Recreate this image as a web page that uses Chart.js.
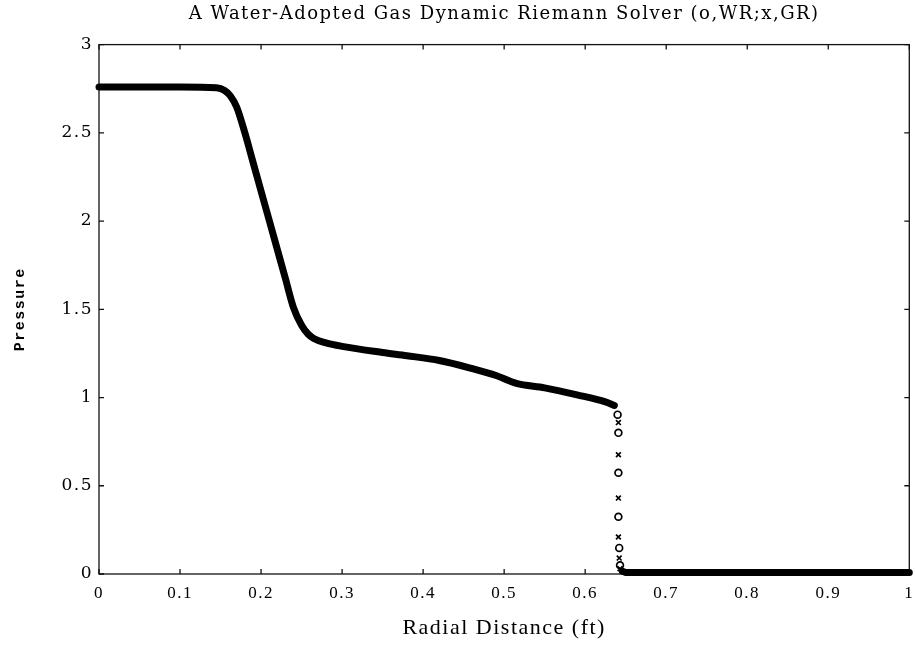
<!DOCTYPE html>
<html>
<head>
<meta charset="utf-8">
<title>Riemann Solver</title>
<script src="https://cdn.jsdelivr.net/npm/chart.js@4.4.1/dist/chart.umd.min.js"></script>
<style>
  html, body { margin: 0; padding: 0; background: #fff; }
</style>
</head>
<body>
<canvas id="riemannChart" width="915" height="656"></canvas>
<script>
// Ticks dos eixos
const xTicks = [0, 0.1, 0.2, 0.3, 0.4, 0.5, 0.6, 0.7, 0.8, 0.9, 1];
const yTicks = [0, 0.5, 1, 1.5, 2, 2.5, 3];

// Solução contínua antes do choque (marcadores o/x sobrepostos)
const radiusUp = [0, 0.05, 0.10, 0.145, 0.155, 0.162, 0.170, 0.180, 0.190, 0.200, 0.210,
  0.220, 0.230, 0.240, 0.250, 0.258, 0.265, 0.280, 0.300, 0.350, 0.380, 0.420, 0.460,
  0.490, 0.515, 0.550, 0.590, 0.625, 0.636];
const pressureUp = [2.76, 2.76, 2.76, 2.755, 2.74, 2.71, 2.645, 2.50, 2.335, 2.17, 2.005,
  1.84, 1.675, 1.51, 1.41, 1.36, 1.335, 1.31, 1.29, 1.255, 1.237, 1.21, 1.165,
  1.125, 1.08, 1.055, 1.015, 0.975, 0.955];

// Depois do choque
const radiusDown = [0.646, 0.650, 0.700, 0.800, 0.900, 1.0];
const pressureDown = [0.015, 0.008, 0.008, 0.008, 0.008, 0.008];

// Marcadores no salto: o = WR, x = GR
const wrShockX = [0.640, 0.641, 0.641, 0.641, 0.642, 0.643];
const wrShockP = [0.903, 0.800, 0.574, 0.324, 0.148, 0.050];
const grShockX = [0.641, 0.641, 0.641, 0.641, 0.642, 0.643];
const grShockP = [0.858, 0.676, 0.430, 0.210, 0.090, 0.030];

const pts = (xs, ys) => xs.map((x, i) => ({ x: x, y: ys[i] }));

// Espaçamento entre letras (texto de plotter antigo)
const spacingPlugin = {
  id: 'spacing',
  beforeUpdate(chart) { chart.ctx.letterSpacing = '1.5px'; },
  beforeDraw(chart) { chart.ctx.letterSpacing = '1.5px'; }
};

// Moldura e ticks para dentro
const framePlugin = {
  id: 'frame',
  beforeDatasetsDraw(chart) {
    const { ctx, chartArea: a, scales } = chart;
    const x = scales.x, y = scales.y;
    ctx.save();
    ctx.strokeStyle = '#111';
    ctx.lineWidth = 1.3;
    ctx.strokeRect(a.left, a.top, a.right - a.left, a.bottom - a.top);
    ctx.beginPath();
    xTicks.forEach(v => {
      const px = x.getPixelForValue(v);
      ctx.moveTo(px, a.bottom); ctx.lineTo(px, a.bottom - 5);
      ctx.moveTo(px, a.top); ctx.lineTo(px, a.top + 5);
    });
    yTicks.forEach(v => {
      const py = y.getPixelForValue(v);
      ctx.moveTo(a.left, py); ctx.lineTo(a.left + 5, py);
      ctx.moveTo(a.right, py); ctx.lineTo(a.right - 5, py);
    });
    ctx.stroke();
    ctx.restore();
  }
};

const ctx = document.getElementById('riemannChart').getContext('2d');
const chart = new Chart(ctx, {
  type: 'scatter',
  data: {
    datasets: [
      {
        label: 'WR/GR',
        data: pts(radiusUp, pressureUp),
        showLine: true,
        borderColor: '#000',
        borderWidth: 7,
        borderCapStyle: 'round',
        borderJoinStyle: 'round',
        cubicInterpolationMode: 'monotone',
        pointRadius: 0,
        clip: false
      },
      {
        label: 'WR/GR low',
        data: pts(radiusDown, pressureDown),
        showLine: true,
        borderColor: '#000',
        borderWidth: 7,
        borderCapStyle: 'round',
        pointRadius: 0,
        clip: false
      },
      {
        label: 'WR',
        data: pts(wrShockX, wrShockP),
        showLine: false,
        pointStyle: 'circle',
        pointRadius: 3.4,
        pointBorderWidth: 1.7,
        pointBorderColor: '#000',
        pointBackgroundColor: 'rgba(0,0,0,0)'
      },
      {
        label: 'GR',
        data: pts(grShockX, grShockP),
        showLine: false,
        pointStyle: 'crossRot',
        pointRadius: 3.4,
        pointBorderWidth: 1.7,
        pointBorderColor: '#000'
      }
    ]
  },
  options: {
    responsive: false,
    animation: false,
    layout: { padding: { left: 0, right: 2, top: 0, bottom: 0 } },
    plugins: {
      legend: { display: false },
      tooltip: { enabled: false },
      title: {
        display: true,
        fullSize: false,
        text: 'A Water-Adopted Gas Dynamic Riemann Solver (o,WR;x,GR)',
        color: '#000',
        font: { family: 'DejaVu Serif', size: 18, weight: 'normal', lineHeight: 1.2 },
        padding: { top: 4, bottom: 19 }
      }
    },
    scales: {
      x: {
        type: 'linear',
        min: 0,
        max: 1,
        afterBuildTicks: s => { s.ticks = xTicks.map(v => ({ value: v })); },
        afterFit: s => { s.height = 82; s.paddingRight = 0; s.paddingLeft = 0; },
        grid: { display: false, drawTicks: false },
        border: { display: false },
        ticks: {
          color: '#000',
          padding: 9,
          maxRotation: 0,
          font: { family: 'Liberation Serif', size: 17 },
          callback: v => String(v)
        },
        title: {
          display: true,
          text: 'Radial Distance (ft)',
          color: '#000',
          font: { family: 'Liberation Serif', size: 22, lineHeight: 1.2 },
          padding: { top: 0, bottom: 15 }
        }
      },
      y: {
        type: 'linear',
        min: 0,
        max: 3,
        afterBuildTicks: s => { s.ticks = yTicks.map(v => ({ value: v })); },
        afterFit: s => { s.width = 99; },
        grid: { display: false, drawTicks: false },
        border: { display: false },
        ticks: {
          color: '#000',
          padding: 6,
          font: { family: 'DejaVu Serif', size: 17 },
          callback: v => String(v)
        },
        title: {
          display: true,
          text: 'Pressure',
          color: '#000',
          font: { family: 'Liberation Mono', size: 15, weight: 'bold', lineHeight: 1.2 },
          padding: { top: 11, bottom: 0 }
        }
      }
    }
  },
  plugins: [spacingPlugin, framePlugin]
});
</script>
</body>
</html>
